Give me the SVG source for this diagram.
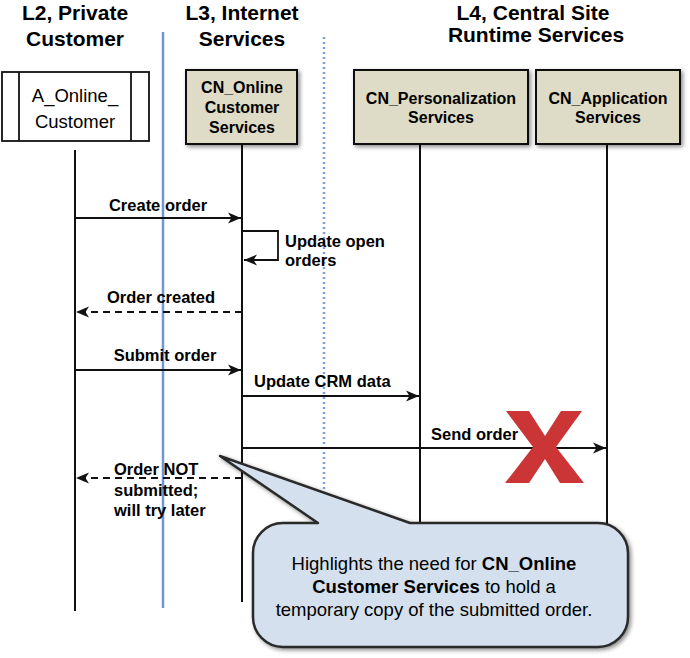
<svg xmlns="http://www.w3.org/2000/svg" width="690" height="658" viewBox="0 0 690 658">
<style>
.hdr{font-family:"Liberation Sans",Arial,sans-serif;font-weight:bold;font-size:21px;fill:#000;text-anchor:middle}
.box{fill:#dedcc6;stroke:#111;stroke-width:2}
.btxt{font-family:"Liberation Sans",Arial,sans-serif;font-weight:bold;font-size:16px;fill:#000;text-anchor:middle}
.life{stroke:#111;stroke-width:2;fill:none}
.msg{stroke:#111;stroke-width:1.8;fill:none}
.dash{stroke-dasharray:7,5}
.lbl{font-family:"Liberation Sans",Arial,sans-serif;font-weight:bold;font-size:16.5px;fill:#000}
.ctxt{font-family:"Liberation Sans",Arial,sans-serif;font-size:18.5px;fill:#000;text-anchor:middle}
</style>
<defs>
<marker id="arr" markerUnits="userSpaceOnUse" markerWidth="14" markerHeight="12" refX="13" refY="6" orient="auto">
<path d="M0,0.5 L13,6 L0,11.5 L3.5,6 z" fill="#111"/>
</marker>
<filter id="sh" x="-10%" y="-10%" width="130%" height="130%">
<feDropShadow dx="2" dy="2" stdDeviation="2" flood-color="#000" flood-opacity="0.45"/>
</filter>
</defs>

<g id="headers">
<text class="hdr" x="75" y="20">L2, Private</text>
<text class="hdr" x="75" y="46">Customer</text>
<text class="hdr" x="242" y="20">L3, Internet</text>
<text class="hdr" x="242" y="46">Services</text>
<text class="hdr" x="533" y="20">L4, Central Site</text>
<text class="hdr" x="536" y="42">Runtime Services</text>
</g>

<g id="separators">
<line x1="163" y1="32" x2="163" y2="608" stroke="#6f96d6" stroke-width="2.5"/>
<line x1="324" y1="37" x2="324" y2="600" stroke="#7d9fdc" stroke-width="2.5" stroke-dasharray="2,3"/>
</g>

<g id="lifelines">
<line class="life" x1="75" y1="150" x2="75" y2="611"/>
<line class="life" x1="242" y1="144" x2="242" y2="602"/>
<line class="life" x1="420" y1="144" x2="420" y2="524"/>
<line class="life" x1="607" y1="144" x2="607" y2="524"/>
</g>

<g id="node-a-online-customer">
<rect x="2" y="72" width="147" height="69" fill="#fff" stroke="#111" stroke-width="1.8"/>
<line x1="19" y1="72" x2="19" y2="141" stroke="#111" stroke-width="1.8"/>
<line x1="131" y1="72" x2="131" y2="141" stroke="#111" stroke-width="1.8"/>
<text x="75" y="102" font-family="Liberation Sans,Arial,sans-serif" font-size="18.5" text-anchor="middle">A_Online_</text>
<text x="75" y="128" font-family="Liberation Sans,Arial,sans-serif" font-size="18.5" text-anchor="middle">Customer</text>
</g>

<g id="node-cn-online-customer-services">
<rect class="box" x="186" y="70" width="111" height="74" filter="url(#sh)"/>
<text class="btxt" x="242" y="93">CN_Online</text>
<text class="btxt" x="242" y="113">Customer</text>
<text class="btxt" x="242" y="133">Services</text>
</g>

<g id="node-cn-personalization-services">
<rect class="box" x="354" y="70" width="174" height="74" filter="url(#sh)"/>
<text class="btxt" x="441" y="104">CN_Personalization</text>
<text class="btxt" x="441" y="123">Services</text>
</g>

<g id="node-cn-application-services">
<rect class="box" x="536" y="70" width="144" height="74" filter="url(#sh)"/>
<text class="btxt" x="608" y="104">CN_Application</text>
<text class="btxt" x="608" y="123">Services</text>
</g>

<g id="connectors">
<line class="msg" x1="75" y1="218" x2="241" y2="218" marker-end="url(#arr)"/>
<text class="lbl" x="158" y="211" text-anchor="middle">Create order</text>

<path class="msg" d="M242,231 H278 V260 H244" marker-end="url(#arr)"/>
<text class="lbl" x="285" y="247">Update open</text>
<text class="lbl" x="285" y="266">orders</text>

<line class="msg dash" x1="242" y1="312" x2="76" y2="312" marker-end="url(#arr)"/>
<text class="lbl" x="161" y="303" text-anchor="middle">Order created</text>

<line class="msg" x1="75" y1="370" x2="241" y2="370" marker-end="url(#arr)"/>
<text class="lbl" x="165" y="361" text-anchor="middle">Submit order</text>

<line class="msg" x1="242" y1="396" x2="419" y2="396" marker-end="url(#arr)"/>
<text class="lbl" x="254" y="387">Update CRM data</text>

<line class="msg" x1="242" y1="448" x2="606" y2="448" marker-end="url(#arr)"/>
<text class="lbl" x="431" y="440">Send order</text>

<line class="msg dash" x1="242" y1="478" x2="76" y2="478" marker-end="url(#arr)"/>
<text class="lbl" x="114" y="475">Order NOT</text>
<text class="lbl" x="114" y="496">submitted;</text>
<text class="lbl" x="114" y="516">will try later</text>
</g>

<g id="failure-mark">
<polygon fill="#cc3535" points="506,411 529,411 545,436 561,411 582,411 556,447 584,483 560,483 545,459 529,483 505,483 533,447"/>
</g>

<g id="callout">
<path d="M283,523 H318 L220,456 L410,523 H598 A30,30 0 0 1 628,553 V617 A30,30 0 0 1 598,647 H283 A30,30 0 0 1 253,617 V553 A30,30 0 0 1 283,523 Z" fill="#d5e0ee" stroke="#2a2a2a" stroke-width="2.5" stroke-linejoin="round" filter="url(#sh)"/>
<text class="ctxt" x="434" y="570">Highlights the need for <tspan font-weight="bold">CN_Online</tspan></text>
<text class="ctxt" x="434" y="593"><tspan font-weight="bold">Customer Services</tspan> to hold a</text>
<text class="ctxt" x="434" y="616">temporary copy of the submitted order.</text>
</g>
</svg>
